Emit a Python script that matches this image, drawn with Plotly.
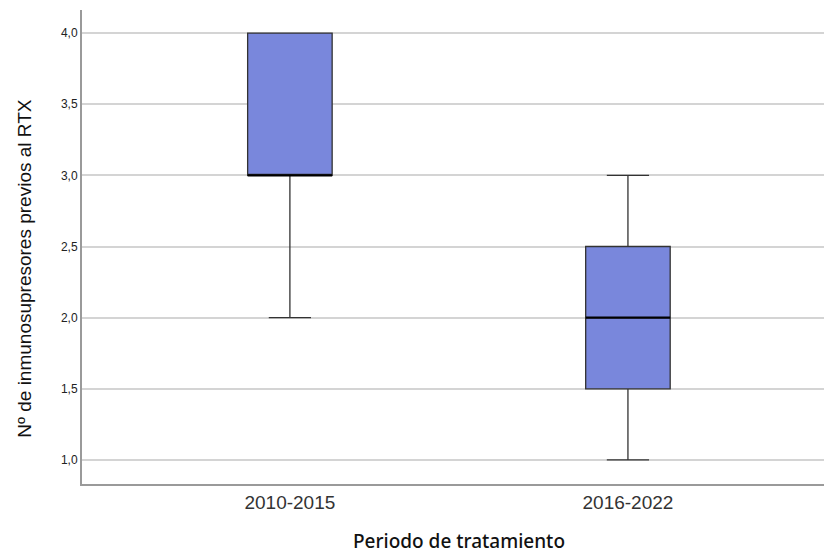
import plotly.graph_objects as go

# Summary statistics per treatment period
periods = ["2010-2015", "2016-2022"]
minimum = [2.0, 1.0]
q1 = [3.0, 1.5]
median = [3.0, 2.0]
q3 = [4.0, 2.5]
maximum = [4.0, 3.0]

y_ticks = [1.0, 1.5, 2.0, 2.5, 3.0, 3.5, 4.0]

box_width = 0.25
fill = "#7987DC"
edge = "#333333"

positions = list(range(len(periods)))

fig = go.Figure()
fig.add_trace(go.Box(
    x=positions,
    q1=q1, median=median, q3=q3,
    lowerfence=minimum, upperfence=maximum,
    width=box_width,
    whiskerwidth=0.5,
    fillcolor=fill,
    line=dict(color=edge, width=1.3),
    boxpoints=False,
    hoverinfo="skip",
    showlegend=False,
))

# Emphasised median lines
for x, m in zip(positions, median):
    fig.add_trace(go.Scatter(
        x=[x - box_width / 2, x + box_width / 2], y=[m, m],
        mode="lines", line=dict(color="black", width=2.2),
        hoverinfo="skip", showlegend=False,
    ))

fig.update_layout(
    width=824, height=555,
    margin=dict(l=82, r=0, t=10, b=71),
    paper_bgcolor="white", plot_bgcolor="white",
    separators=",.",
    font=dict(family="Liberation Sans, Arial, sans-serif", color="#222"),
    xaxis=dict(
        range=[-0.615, 1.58],
        tickmode="array", tickvals=positions, ticktext=periods,
        tickfont=dict(size=19, color="#333"),
        showgrid=False, zeroline=False,
        showline=True, linecolor="#9a9a9a", linewidth=2,
        ticks="", ticklen=0,
    ),
    yaxis=dict(
        range=[0.831, 4.162],
        tickmode="array", tickvals=y_ticks, tickformat=".1f",
        tickfont=dict(size=12, color="#222"),
        showgrid=True, gridcolor="#d4d4d4", gridwidth=1.5,
        zeroline=False,
        showline=True, linecolor="#9a9a9a", linewidth=2,
        ticks="", ticklen=0,
    ),
    annotations=[
        dict(text="Periodo de tratamiento", xref="paper", yref="paper",
             x=0.508, y=-0.120, xanchor="center", yanchor="middle",
             showarrow=False,
             font=dict(family="Noto Sans", size=19, weight=500, color="#111")),
        dict(text="Nº de inmunosupresores previos al RTX", xref="paper", yref="paper",
             x=-0.077, y=0.456, xanchor="center", yanchor="middle",
             textangle=-90, showarrow=False,
             font=dict(family="Liberation Sans", size=19, color="#111")),
    ],
)

fig.write_html("out.html")
